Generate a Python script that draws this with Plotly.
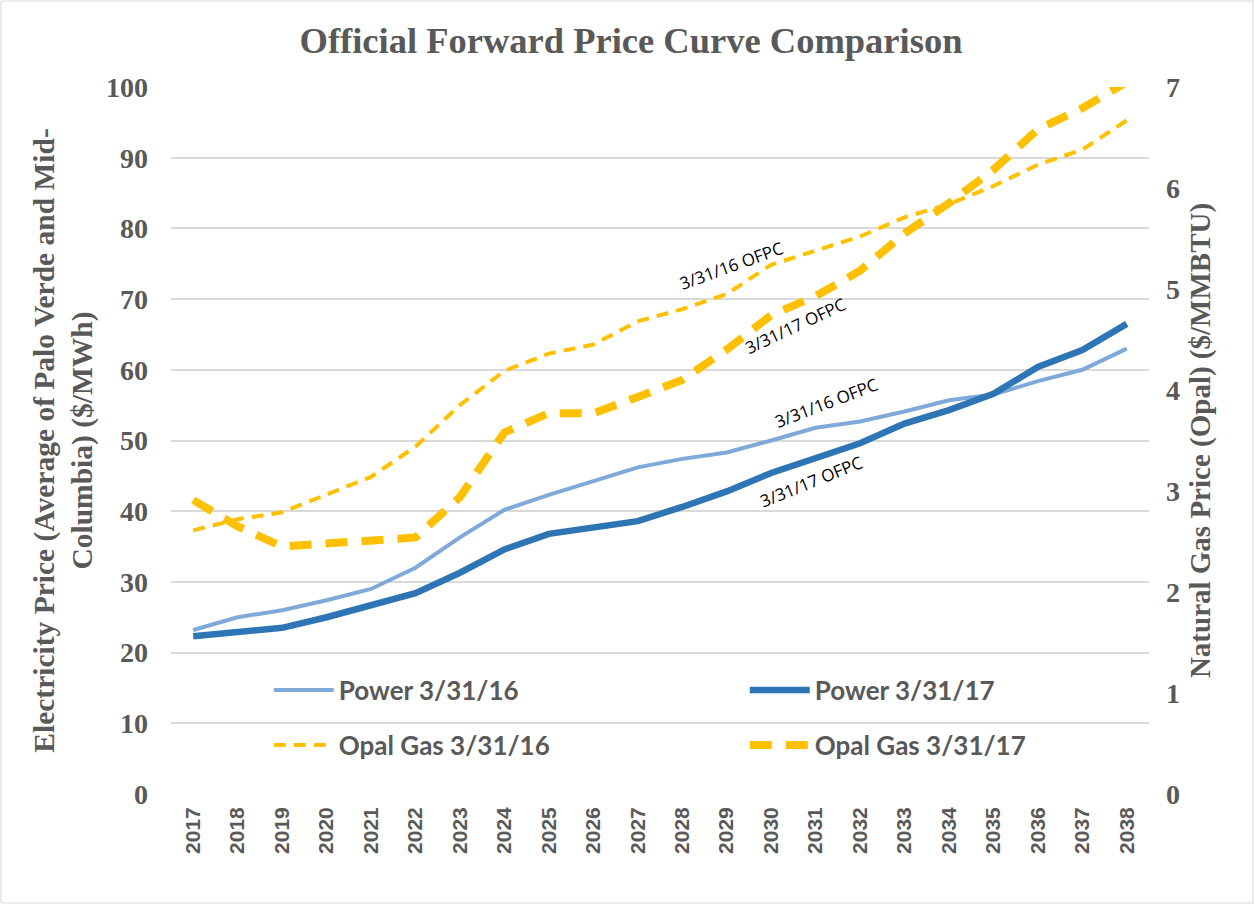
import plotly.graph_objects as go

years = [str(y) for y in range(2017, 2039)]
power_16 = [23.2, 25.0, 26.0, 27.4, 29.0, 32.0, 36.3, 40.2, 42.3, 44.3, 46.2, 47.4, 48.3, 50.0, 51.8, 52.7, 54.1, 55.7, 56.5, 58.4, 60.0, 63.0]
power_17 = [22.3, 23.0, 23.5, 25.0, 26.7, 28.4, 31.3, 34.6, 36.8, 37.6, 38.6, 40.6, 42.8, 45.4, 47.5, 49.6, 52.4, 54.3, 56.6, 60.4, 62.8, 66.5]
gas_16 = [2.61, 2.72, 2.79, 2.96, 3.14, 3.44, 3.85, 4.19, 4.36, 4.45, 4.68, 4.80, 4.95, 5.24, 5.38, 5.52, 5.71, 5.84, 6.02, 6.23, 6.38, 6.67]
gas_17 = [2.91, 2.65, 2.45, 2.48, 2.51, 2.54, 2.94, 3.58, 3.77, 3.77, 3.93, 4.10, 4.40, 4.74, 4.93, 5.18, 5.55, 5.85, 6.18, 6.58, 6.79, 7.05]

labels = [
    ("3/31/16 OFPC", 12.1, 74.8, -20),
    ("3/31/17 OFPC", 13.55, 66.3, -25),
    ("3/31/16 OFPC", 14.25, 55.4, -21),
    ("3/31/17 OFPC", 13.9, 44.2, -22),
]

LIGHT = "#7EA9D8"
DARK = "#2E75B6"
GOLD = "#FFC000"
GRAY = "#595959"

fig = go.Figure()
fig.add_trace(go.Scatter(x=years, y=power_16, name="Power 3/31/16", mode="lines", legend="legend",
                         line=dict(color=LIGHT, width=4)))
fig.add_trace(go.Scatter(x=years, y=power_17, name="Power 3/31/17", mode="lines", legend="legend",
                         line=dict(color=DARK, width=6.5)))
fig.add_trace(go.Scatter(x=years, y=gas_16, name="Opal Gas 3/31/16", mode="lines", yaxis="y2",
                         legend="legend2", line=dict(color=GOLD, width=4, dash="12px,8px")))
fig.add_trace(go.Scatter(x=years, y=gas_17, name="Opal Gas 3/31/17", mode="lines", yaxis="y2",
                         legend="legend2", line=dict(color=GOLD, width=8, dash="22px,14px")))

for text, xi, yv, ang in labels:
    fig.add_annotation(x=xi, y=yv, xref="x", yref="y", text=text, showarrow=False,
                       textangle=ang, font=dict(family="Open Sans", size=17, color="black"))

W, H = 1255, 905
ml, mr, mt, mb = 171, 106, 87, 111
pw, ph = W - ml - mr, H - mt - mb
fig.add_shape(type="rect", xref="paper", yref="paper",
              x0=(-ml + 1) / pw, x1=1 + (mr - 2) / pw, y0=(-mb + 2) / ph, y1=1 + (mt - 1) / ph,
              line=dict(color="#D9D9D9", width=1), layer="below")

legend_common = dict(orientation="h", x=0.1, xanchor="left", yanchor="middle",
                     entrywidth=401, entrywidthmode="pixels", bgcolor="rgba(0,0,0,0)",
                     itemwidth=60,
                     font=dict(family="Lato", size=26, color=GRAY, weight="bold"))

fig.update_layout(
    width=W, height=H,
    margin=dict(l=ml, r=mr, t=mt, b=mb, autoexpand=False),
    paper_bgcolor="white", plot_bgcolor="white",
    title=dict(text="<b>Official Forward Price Curve Comparison</b>", x=631 / W, xref="container",
               xanchor="center", y=1 - 40 / H, yanchor="middle",
               font=dict(family="Liberation Serif", size=36.5, color=GRAY)),
    xaxis=dict(type="category", range=[-0.5, 21.5], tickangle=-90, showgrid=False,
               showline=False, ticks="", ticklabelstandoff=8, automargin=False,
               tickfont=dict(family="Liberation Sans", size=21, color=GRAY, weight="bold")),
    yaxis=dict(range=[0, 100], dtick=10, showgrid=True, gridcolor="#D9D9D9", gridwidth=1.5,
               zeroline=False, showline=False, ticks="", ticklabelstandoff=22, automargin=False,
               tickfont=dict(family="Liberation Serif", size=28, color=GRAY, weight="bold"),
               title=dict(text="Electricity Price (Average of Palo Verde and Mid-<br>Columbia) ($/MWh)",
                          standoff=4,
                          font=dict(family="Liberation Serif", size=29.5, color=GRAY, weight="bold"))),
    yaxis2=dict(range=[0, 7], dtick=1, overlaying="y", side="right", showgrid=False,
                zeroline=False, showline=False, ticks="", ticklabelstandoff=16, automargin=False,
                tickfont=dict(family="Liberation Serif", size=28, color=GRAY, weight="bold"),
                title=dict(text="Natural Gas Price (Opal) ($/MMBTU)", standoff=10,
                           font=dict(family="Liberation Serif", size=29, color=GRAY, weight="bold"))),
    legend=dict(legend_common, y=(794 - 690) / ph),
    legend2=dict(legend_common, y=(794 - 745) / ph),
    showlegend=True,
)

fig.write_html("out.html", config={"displayModeBar": False},
               post_script="document.body.style.margin='0px';document.body.style.overflow='hidden';")
